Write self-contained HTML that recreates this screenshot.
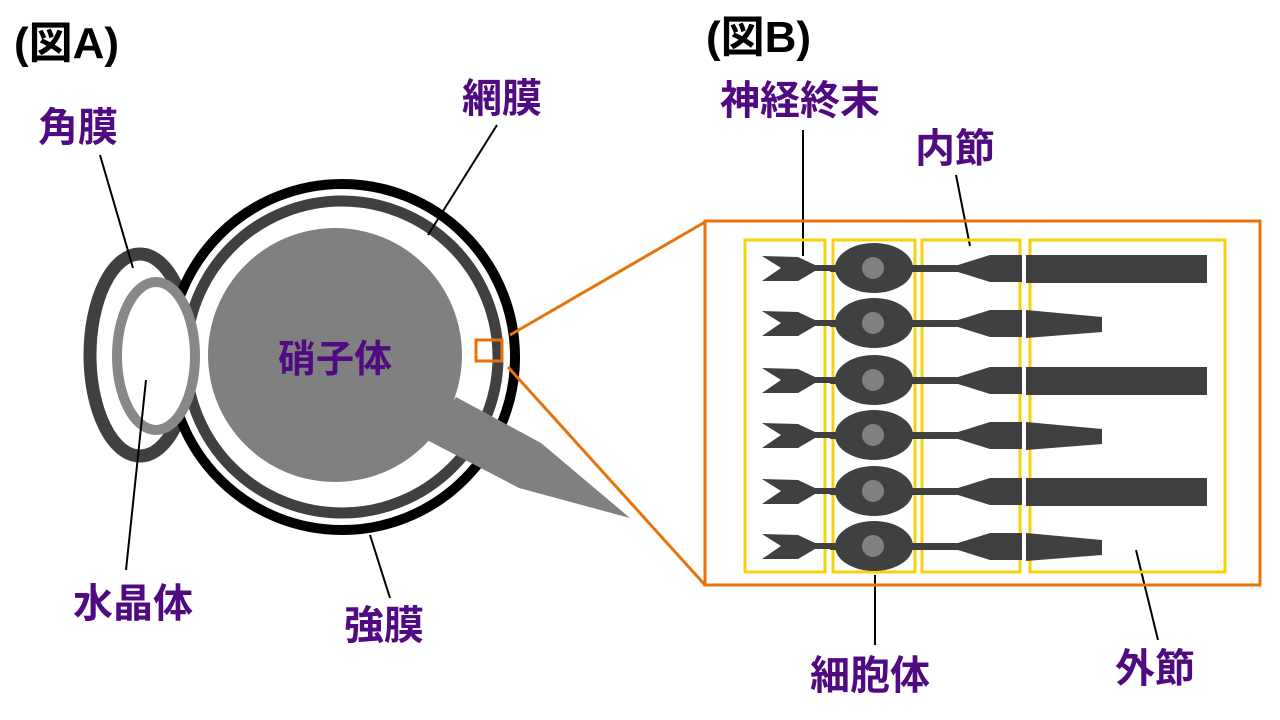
<!DOCTYPE html>
<html><head><meta charset="utf-8"><style>
html,body{margin:0;padding:0;background:#fff;width:1280px;height:720px;overflow:hidden}
svg text{font-family:"Liberation Sans","Noto Sans CJK JP",sans-serif;font-weight:bold}
</style></head><body>
<svg width="1280" height="720" viewBox="0 0 1280 720" xmlns="http://www.w3.org/2000/svg">
<defs>
<g id="cellL">
<polygon points="762,256 798,257 815,265 835,265 835,271 815,271 798,281 762,281 781,268" fill="#404040"/>
<rect x="830" y="265" width="130" height="7" fill="#404040"/>
<ellipse cx="874" cy="268" rx="39" ry="25" fill="#404040"/>
<circle cx="873" cy="268" r="11" fill="#808080"/>
<polygon points="958,265 990,255 1022,255 1022,282 990,282 958,272" fill="#404040"/>
</g>
</defs>
<text x="14" y="58" font-size="44" fill="#000">(図A)</text>
<text x="706" y="52" font-size="44" fill="#000">(図B)</text>
<!-- eye -->
<ellipse cx="140" cy="355" rx="50" ry="101" fill="#fff" stroke="#404040" stroke-width="13"/>
<circle cx="342" cy="357" r="173" fill="#fff" stroke="#000" stroke-width="10"/>
<circle cx="342" cy="357" r="156" fill="none" stroke="#404040" stroke-width="11"/>
<circle cx="335" cy="355" r="127" fill="#808080"/>
<polygon points="456,397 541,443 630,518 519,488 427,440" fill="#808080"/>
<ellipse cx="156" cy="356" rx="39" ry="74" fill="#fff" stroke="#888" stroke-width="10"/>
<text x="335" y="372" font-size="38" fill="#500A82" text-anchor="middle">硝子体</text>
<rect x="476" y="340" width="26" height="21" fill="none" stroke="#E8730C" stroke-width="3"/>
<line x1="510" y1="335" x2="705" y2="222" stroke="#E8730C" stroke-width="3"/>
<line x1="508" y1="367" x2="705" y2="585" stroke="#E8730C" stroke-width="3"/>
<g stroke="#000" stroke-width="2">
<line x1="100" y1="155" x2="133" y2="268"/>
<line x1="497" y1="125" x2="428" y2="235"/>
<line x1="126" y1="570" x2="146" y2="380"/>
<line x1="390" y1="598" x2="370" y2="535"/>
<line x1="803" y1="130" x2="803" y2="256"/>
<line x1="956" y1="175" x2="970" y2="246"/>
<line x1="875" y1="645" x2="875" y2="575"/>
<line x1="1158" y1="640" x2="1136" y2="550"/>
</g>
<g font-size="40" fill="#500A82" text-anchor="middle">
<text x="78" y="141">角膜</text>
<text x="502" y="112">網膜</text>
<text x="133" y="617">水晶体</text>
<text x="384" y="639">強膜</text>
<text x="800" y="114">神経終末</text>
<text x="955" y="162">内節</text>
<text x="870" y="689">細胞体</text>
<text x="1155" y="682">外節</text>
</g>
<rect x="705" y="221" width="555" height="364" fill="none" stroke="#E8730C" stroke-width="3"/>
<g fill="none" stroke="#F5D20A" stroke-width="3">
<rect x="745" y="240" width="80" height="332"/>
<rect x="833" y="240" width="82" height="332"/>
<rect x="922" y="240" width="98" height="332"/>
<rect x="1030" y="240" width="195" height="332"/>
</g>
<use href="#cellL"/>
<rect x="1026" y="255" width="181" height="28" fill="#404040"/>
<use href="#cellL" transform="translate(0,55)"/>
<polygon points="1026,310 1102,317 1102,332 1026,338" fill="#404040"/>
<use href="#cellL" transform="translate(0,112)"/>
<rect x="1026" y="367" width="181" height="28" fill="#404040"/>
<use href="#cellL" transform="translate(0,167)"/>
<polygon points="1026,422 1102,429 1102,444 1026,450" fill="#404040"/>
<use href="#cellL" transform="translate(0,223)"/>
<rect x="1026" y="478" width="181" height="28" fill="#404040"/>
<use href="#cellL" transform="translate(0,278)"/>
<polygon points="1026,533 1102,540 1102,555 1026,561" fill="#404040"/>
</svg>
</body></html>
